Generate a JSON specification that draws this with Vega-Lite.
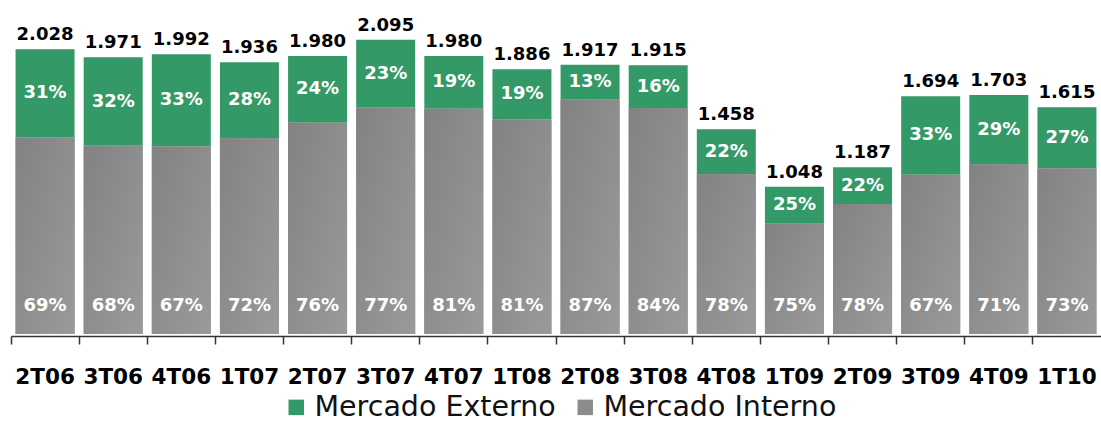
{
  "$schema": "https://vega.github.io/schema/vega-lite/v6.json",
  "width": 1090,
  "height": 334,
  "padding": {"left": 11, "top": 0, "right": 0, "bottom": 89},
  "autosize": {"type": "none"},
  "config": {
    "view": {"stroke": null},
    "font": "DejaVu Sans",
    "locale": {"number": {"decimal": ",", "thousands": ".", "grouping": [3], "currency": ["R$", ""]}}
  },
  "data": {
    "values": [
      {"q": "2T06", "series": "Mercado Externo", "value": 629, "pct": 0.31, "total": 2028},
      {"q": "2T06", "series": "Mercado Interno", "value": 1399, "pct": 0.69, "total": 2028},
      {"q": "3T06", "series": "Mercado Externo", "value": 631, "pct": 0.32, "total": 1971},
      {"q": "3T06", "series": "Mercado Interno", "value": 1340, "pct": 0.68, "total": 1971},
      {"q": "4T06", "series": "Mercado Externo", "value": 657, "pct": 0.33, "total": 1992},
      {"q": "4T06", "series": "Mercado Interno", "value": 1335, "pct": 0.67, "total": 1992},
      {"q": "1T07", "series": "Mercado Externo", "value": 542, "pct": 0.28, "total": 1936},
      {"q": "1T07", "series": "Mercado Interno", "value": 1394, "pct": 0.72, "total": 1936},
      {"q": "2T07", "series": "Mercado Externo", "value": 475, "pct": 0.24, "total": 1980},
      {"q": "2T07", "series": "Mercado Interno", "value": 1505, "pct": 0.76, "total": 1980},
      {"q": "3T07", "series": "Mercado Externo", "value": 482, "pct": 0.23, "total": 2095},
      {"q": "3T07", "series": "Mercado Interno", "value": 1613, "pct": 0.77, "total": 2095},
      {"q": "4T07", "series": "Mercado Externo", "value": 376, "pct": 0.19, "total": 1980},
      {"q": "4T07", "series": "Mercado Interno", "value": 1604, "pct": 0.81, "total": 1980},
      {"q": "1T08", "series": "Mercado Externo", "value": 358, "pct": 0.19, "total": 1886},
      {"q": "1T08", "series": "Mercado Interno", "value": 1528, "pct": 0.81, "total": 1886},
      {"q": "2T08", "series": "Mercado Externo", "value": 249, "pct": 0.13, "total": 1917},
      {"q": "2T08", "series": "Mercado Interno", "value": 1668, "pct": 0.87, "total": 1917},
      {"q": "3T08", "series": "Mercado Externo", "value": 306, "pct": 0.16, "total": 1915},
      {"q": "3T08", "series": "Mercado Interno", "value": 1609, "pct": 0.84, "total": 1915},
      {"q": "4T08", "series": "Mercado Externo", "value": 321, "pct": 0.22, "total": 1458},
      {"q": "4T08", "series": "Mercado Interno", "value": 1137, "pct": 0.78, "total": 1458},
      {"q": "1T09", "series": "Mercado Externo", "value": 262, "pct": 0.25, "total": 1048},
      {"q": "1T09", "series": "Mercado Interno", "value": 786, "pct": 0.75, "total": 1048},
      {"q": "2T09", "series": "Mercado Externo", "value": 261, "pct": 0.22, "total": 1187},
      {"q": "2T09", "series": "Mercado Interno", "value": 926, "pct": 0.78, "total": 1187},
      {"q": "3T09", "series": "Mercado Externo", "value": 559, "pct": 0.33, "total": 1694},
      {"q": "3T09", "series": "Mercado Interno", "value": 1135, "pct": 0.67, "total": 1694},
      {"q": "4T09", "series": "Mercado Externo", "value": 494, "pct": 0.29, "total": 1703},
      {"q": "4T09", "series": "Mercado Interno", "value": 1209, "pct": 0.71, "total": 1703},
      {"q": "1T10", "series": "Mercado Externo", "value": 436, "pct": 0.27, "total": 1615},
      {"q": "1T10", "series": "Mercado Interno", "value": 1179, "pct": 0.73, "total": 1615}
    ]
  },
  "transform": [
    {"stack": "value", "groupby": ["q"], "sort": [{"field": "series", "order": "descending"}], "as": ["v0", "v1"]},
    {"calculate": "(datum.v0 + datum.v1) / 2", "as": "vmid"}
  ],
  "encoding": {
    "x": {
      "field": "q",
      "type": "nominal",
      "sort": null,
      "scale": {"paddingInner": 0, "paddingOuter": 0},
      "axis": {
        "title": null,
        "bandPosition": 0,
        "offset": 2,
        "domainColor": "#333333",
        "domainWidth": 1.5,
        "tickColor": "#333333",
        "tickWidth": 1.5,
        "tickSize": 8,
        "labelAngle": 0,
        "labelFont": "DejaVu Sans",
        "labelFontWeight": "bold",
        "labelFontSize": 21.5,
        "labelColor": "#000000",
        "labelBaseline": "alphabetic",
        "labelPadding": 39
      }
    }
  },
  "layer": [
    {
      "mark": {"type": "bar", "width": {"band": 0.866}},
      "encoding": {
        "y": {"field": "v0", "type": "quantitative", "scale": {"domain": [0, 2379], "nice": false, "zero": true}, "axis": null},
        "y2": {"field": "v1"},
        "color": {
          "field": "series",
          "type": "nominal",
          "scale": {"domain": ["Mercado Externo", "Mercado Interno"], "range": ["#339966", "#8c8c8c"]},
          "legend": {
            "title": null,
            "orient": "none",
            "legendX": 271,
            "legendY": 393,
            "direction": "horizontal",
            "symbolType": "square",
            "symbolSize": 240,
            "symbolStrokeWidth": 0,
            "labelFont": "DejaVu Sans",
            "labelFontSize": 28.5,
            "labelColor": "#111111",
            "labelOffset": 4,
            "columnPadding": 15,
            "padding": 0,
            "labelLimit": 400
          }
        }
      }
    },
    {
      "transform": [{"filter": "datum.series === 'Mercado Interno'"}],
      "mark": {
        "type": "bar",
        "width": {"band": 0.866},
        "color": {
          "gradient": "linear",
          "x1": 0, "y1": 0, "x2": 1, "y2": 1,
          "stops": [{"offset": 0, "color": "#828282"}, {"offset": 1, "color": "#9a9a9a"}]
        }
      },
      "encoding": {
        "y": {"field": "v0", "type": "quantitative"},
        "y2": {"field": "v1"}
      }
    },
    {
      "transform": [{"filter": "datum.series === 'Mercado Externo'"}],
      "mark": {"type": "text", "baseline": "alphabetic", "dy": -9, "fontSize": 18, "fontWeight": "bold", "color": "#000000"},
      "encoding": {
        "y": {"field": "v1", "type": "quantitative"},
        "text": {"field": "total", "type": "quantitative", "format": ",d"}
      }
    },
    {
      "transform": [{"filter": "datum.series === 'Mercado Externo'"}],
      "mark": {"type": "text", "baseline": "middle", "fontSize": 18, "fontWeight": "bold", "color": "#ffffff"},
      "encoding": {
        "y": {"field": "vmid", "type": "quantitative"},
        "text": {"field": "pct", "type": "quantitative", "format": ".0%"}
      }
    },
    {
      "transform": [{"filter": "datum.series === 'Mercado Interno'"}],
      "mark": {"type": "text", "baseline": "middle", "dy": -28, "fontSize": 18, "fontWeight": "bold", "color": "#ffffff"},
      "encoding": {
        "y": {"field": "v0", "type": "quantitative"},
        "text": {"field": "pct", "type": "quantitative", "format": ".0%"}
      }
    }
  ]
}
